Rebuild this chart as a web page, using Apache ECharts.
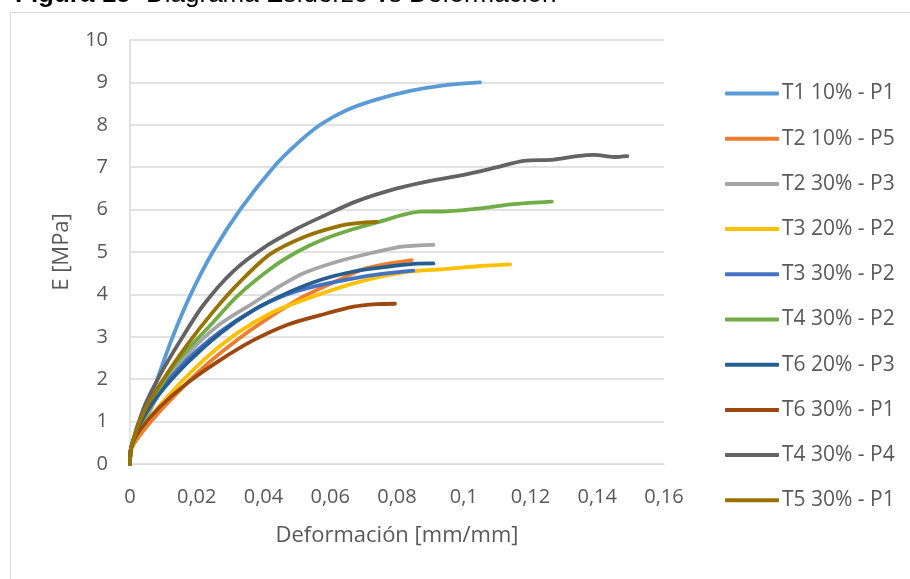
<!DOCTYPE html>
<html>
<head>
<meta charset="utf-8">
<script src="https://cdn.jsdelivr.net/npm/echarts@6/dist/echarts.min.js"></script>
<style>
html,body{margin:0;padding:0;background:#fff;}
#c{width:910px;height:579px;}
</style>
</head>
<body>
<div id="c"></div>
<script>
const seriesNames = ['T1 10% - P1','T2 10% - P5','T2 30% - P3','T3 20% - P2','T3 30% - P2','T4 30% - P2','T6 20% - P3','T6 30% - P1','T4 30% - P4','T5 30% - P1'];
const seriesColors = ['#5B9BD5','#ED7D31','#A5A5A5','#FFC000','#4472C4','#70AD47','#255E91','#9E480E','#636363','#997300'];

const t1_10_p1 = [[0,0],[0.0004,0.4],[0.0040,1.0],[0.0082,2.0],[0.0128,3.0],[0.0182,4.0],[0.0248,5.0],[0.0330,6.0],[0.0430,7.0],[0.0500,7.55],[0.0570,8.0],[0.0650,8.35],[0.0740,8.6],[0.0840,8.8],[0.0940,8.93],[0.1049,9.0]];
const t2_10_p5 = [[0,0],[0.0004,0.35],[0.005,0.88],[0.012,1.5],[0.022,2.28],[0.032,2.92],[0.042,3.47],[0.052,3.95],[0.062,4.32],[0.070,4.6],[0.077,4.72],[0.0844,4.81]];
const t2_30_p3 = [[0,0],[0.0004,0.4],[0.005,1.1],[0.010,1.85],[0.018,2.65],[0.027,3.3],[0.037,3.8],[0.045,4.2],[0.052,4.5],[0.062,4.77],[0.072,4.97],[0.082,5.13],[0.0909,5.17]];
const t3_20_p2 = [[0,0],[0.0004,0.4],[0.005,1.0],[0.012,1.65],[0.022,2.45],[0.032,3.08],[0.042,3.55],[0.052,3.87],[0.067,4.26],[0.0819,4.52],[0.095,4.6],[0.105,4.67],[0.1139,4.71]];
const t3_30_p2 = [[0,0],[0.0004,0.4],[0.003,0.95],[0.009,1.72],[0.017,2.45],[0.027,3.12],[0.037,3.63],[0.047,4.0],[0.057,4.22],[0.067,4.38],[0.075,4.48],[0.0849,4.56]];
const t4_30_p2 = [[0,0],[0.0004,0.4],[0.005,1.2],[0.012,2.2],[0.019,2.85],[0.025,3.35],[0.032,3.95],[0.042,4.6],[0.050,5.0],[0.058,5.3],[0.066,5.52],[0.074,5.7],[0.087,5.95],[0.095,5.96],[0.105,6.03],[0.115,6.13],[0.1264,6.19]];
const t6_20_p3 = [[0,0],[0.0004,0.4],[0.003,0.96],[0.009,1.67],[0.017,2.37],[0.027,3.08],[0.037,3.63],[0.047,4.03],[0.057,4.34],[0.067,4.54],[0.0769,4.65],[0.0849,4.72],[0.0909,4.73]];
const t6_30_p1 = [[0,0],[0.0004,0.4],[0.003,0.8],[0.009,1.35],[0.017,1.9],[0.027,2.45],[0.037,2.92],[0.047,3.28],[0.057,3.51],[0.067,3.71],[0.074,3.77],[0.0794,3.78]];
const t4_30_p4 = [[0,0],[0.0004,0.4],[0.004,1.3],[0.009,2.1],[0.015,2.9],[0.022,3.75],[0.031,4.55],[0.041,5.15],[0.050,5.55],[0.058,5.85],[0.068,6.2],[0.080,6.5],[0.090,6.68],[0.100,6.82],[0.110,7.0],[0.118,7.15],[0.127,7.18],[0.134,7.26],[0.139,7.29],[0.145,7.24],[0.149,7.26]];
const t5_30_p1 = [[0,0],[0.0004,0.4],[0.004,1.2],[0.010,2.0],[0.017,2.8],[0.025,3.6],[0.033,4.3],[0.042,4.95],[0.052,5.35],[0.062,5.6],[0.068,5.68],[0.0739,5.71]];

const seriesData = [t1_10_p1,t2_10_p5,t2_30_p3,t3_20_p2,t3_30_p2,t4_30_p2,t6_20_p3,t6_30_p1,t4_30_p4,t5_30_p1];

const xTicks = {min:0, max:0.16, interval:0.02};
const yTicks = {min:0, max:10, interval:1};
const titleBold = 'Figura 15';
const titleRest = 'Diagrama Esfuerzo vs Deformación';
const xTitle = 'Deformación [mm/mm]';
const yTitle = 'E [MPa]';

const FONT = '"Open Sans", sans-serif';
const TXT = '#595959';
const GRID = '#d9d9d9';

const chart = echarts.init(document.getElementById('c'), null, {renderer:'canvas'});
chart.setOption({
  animation:false,
  backgroundColor:'#fff',
  graphic:[
    {type:'rect', shape:{x:10.5, y:12.5, width:1000, height:1000}, style:{fill:'none', stroke:GRID, lineWidth:1}, silent:true},
    {type:'text', left:15, top:-18, style:{text:titleBold, font:'bold 26px "Liberation Sans", Arial, sans-serif', fill:'#000'}},
    {type:'text', left:146, top:-18, style:{text:titleRest, font:'26px "Liberation Sans", Arial, sans-serif', fill:'#000'}}
  ],
  grid:{left:130, right:246, top:40, bottom:115, containLabel:false},
  legend:{
    orient:'vertical', left:725, top:83, padding:0, itemWidth:54, itemHeight:4, itemGap:24.2,
    icon:'roundRect',
    textStyle:{color:TXT, fontFamily:FONT, fontSize:21, lineHeight:20, padding:[0,0,0,-2]},
    data:seriesNames
  },
  xAxis:{
    type:'value', min:xTicks.min, max:xTicks.max, interval:xTicks.interval,
    name:xTitle, nameLocation:'middle', nameGap:61,
    nameTextStyle:{color:TXT, fontFamily:FONT, fontSize:22},
    axisLine:{show:true, lineStyle:{color:GRID}},
    axisTick:{show:false},
    splitLine:{show:false},
    axisLabel:{color:TXT, fontFamily:FONT, fontSize:20, margin:23,
      formatter:v=>String(+v.toFixed(2)).replace('.',',')}
  },
  yAxis:{
    type:'value', min:yTicks.min, max:yTicks.max, interval:yTicks.interval,
    name:yTitle, nameLocation:'middle', nameGap:57, nameRotate:90,
    nameTextStyle:{color:TXT, fontFamily:FONT, fontSize:22},
    axisLine:{show:true, lineStyle:{color:GRID, width:1.5}},
    axisTick:{show:false},
    splitLine:{show:true, lineStyle:{color:GRID, width:1.5}},
    axisLabel:{color:TXT, fontFamily:FONT, fontSize:20, margin:22}
  },
  series:seriesData.map((d,i)=>({
    name:seriesNames[i], type:'line', data:d, showSymbol:false, symbol:'none',
    smooth:0.3,
    color:seriesColors[i],
    lineStyle:{color:seriesColors[i], width:3.8, cap:'round', join:'round'}
  }))
});
</script>
</body>
</html>
